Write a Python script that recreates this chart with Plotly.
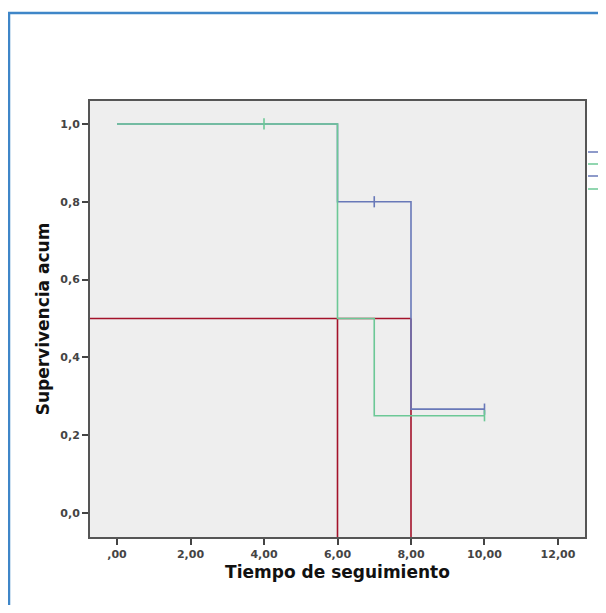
import plotly.graph_objects as go

# Kaplan-Meier data
blue_t = [0, 6, 8, 10]
blue_s = [1.0, 0.8, 0.267, 0.267]
blue_cens_t = [7, 10]
blue_cens_s = [0.8, 0.267]

green_t = [0, 6, 7, 10]
green_s = [1.0, 0.5, 0.25, 0.25]
green_cens_t = [4, 10]
green_cens_s = [1.0, 0.25]

median_level = 0.5
median_times = [6, 8]

x_ticks = [0, 2, 4, 6, 8, 10, 12]
x_ticklabels = [",00", "2,00", "4,00", "6,00", "8,00", "10,00", "12,00"]
y_ticks = [0, 0.2, 0.4, 0.6, 0.8, 1.0]
y_ticklabels = ["0,0", "0,2", "0,4", "0,6", "0,8", "1,0"]

x_range = [-0.735, 12.735]
y_range = [-0.0617, 1.059]

BLUE = "#6878B8"
GREEN = "#6CC896"
RED = "#A3122A"

fig = go.Figure()

# red median reference lines
fig.add_trace(go.Scatter(x=[x_range[0], max(median_times)], y=[median_level, median_level],
                         mode="lines", line=dict(color=RED, width=1.6), hoverinfo="skip"))
for mt in median_times:
    fig.add_trace(go.Scatter(x=[mt, mt], y=[y_range[0], median_level],
                             mode="lines", line=dict(color=RED, width=1.6), hoverinfo="skip"))

fig.add_trace(go.Scatter(x=blue_t, y=blue_s, mode="lines", line_shape="hv",
                         line=dict(color=BLUE, width=1.6)))
fig.add_trace(go.Scatter(x=green_t, y=green_s, mode="lines", line_shape="hv",
                         line=dict(color=GREEN, width=1.6)))
fig.add_trace(go.Scatter(x=blue_cens_t, y=blue_cens_s, mode="markers",
                         marker=dict(symbol="line-ns", size=8, line=dict(color=BLUE, width=1.6))))
fig.add_trace(go.Scatter(x=green_cens_t, y=green_cens_s, mode="markers",
                         marker=dict(symbol="line-ns", size=8, line=dict(color=GREEN, width=1.6))))

# legend swatches (cut off at right edge in the reference)
leg_colors = [BLUE, GREEN, BLUE, GREEN]
leg_y = [152, 164, 176, 189]
shapes = []
for c, yy in zip(leg_colors, leg_y):
    yp = (537 - yy) / 436
    shapes.append(dict(type="line", xref="paper", yref="paper",
                       x0=(588 - 90) / 495, x1=(640 - 90) / 495,
                       y0=yp, y1=yp,
                       line=dict(color=c, width=1.6)))
# outer blue frame
shapes.append(dict(type="rect", xref="paper", yref="paper",
                   x0=(9 - 90) / 495, x1=(660 - 90) / 495,
                   y0=(537 - 680) / 436, y1=(537 - 13) / 436,
                   line=dict(color="#3F86C8", width=2.5), layer="below"))

fig.update_layout(
    width=598, height=597,
    margin=dict(l=82, r=21, t=93, b=68),
    paper_bgcolor="white",
    plot_bgcolor="#EEEEEE",
    showlegend=False,
    shapes=shapes,
    font=dict(family="DejaVu Sans", color="#333333"),
)
tickfont = dict(size=11, color="#444444", family="DejaVu Sans", weight="bold")
fig.update_xaxes(range=x_range, tickvals=x_ticks, ticktext=x_ticklabels,
                 ticks="outside", ticklen=6, tickcolor="#444444", tickwidth=1.5,
                 showgrid=False, zeroline=False, showline=True, mirror=True,
                 linecolor="#555555", linewidth=2,
                 tickfont=tickfont,
                 title=dict(text="<b>Tiempo de seguimiento</b>", font=dict(size=17, color="#111111"),
                            standoff=6))
fig.update_yaxes(range=y_range, tickvals=y_ticks, ticktext=y_ticklabels,
                 ticks="outside", ticklen=6, tickcolor="#444444", tickwidth=1.5,
                 showgrid=False, zeroline=False, showline=True, mirror=True,
                 linecolor="#555555", linewidth=2,
                 tickfont=tickfont,
                 title=dict(text="<b>Supervivencia acum</b>", font=dict(size=17, color="#111111"),
                            standoff=6))

fig.write_html("out.html")
